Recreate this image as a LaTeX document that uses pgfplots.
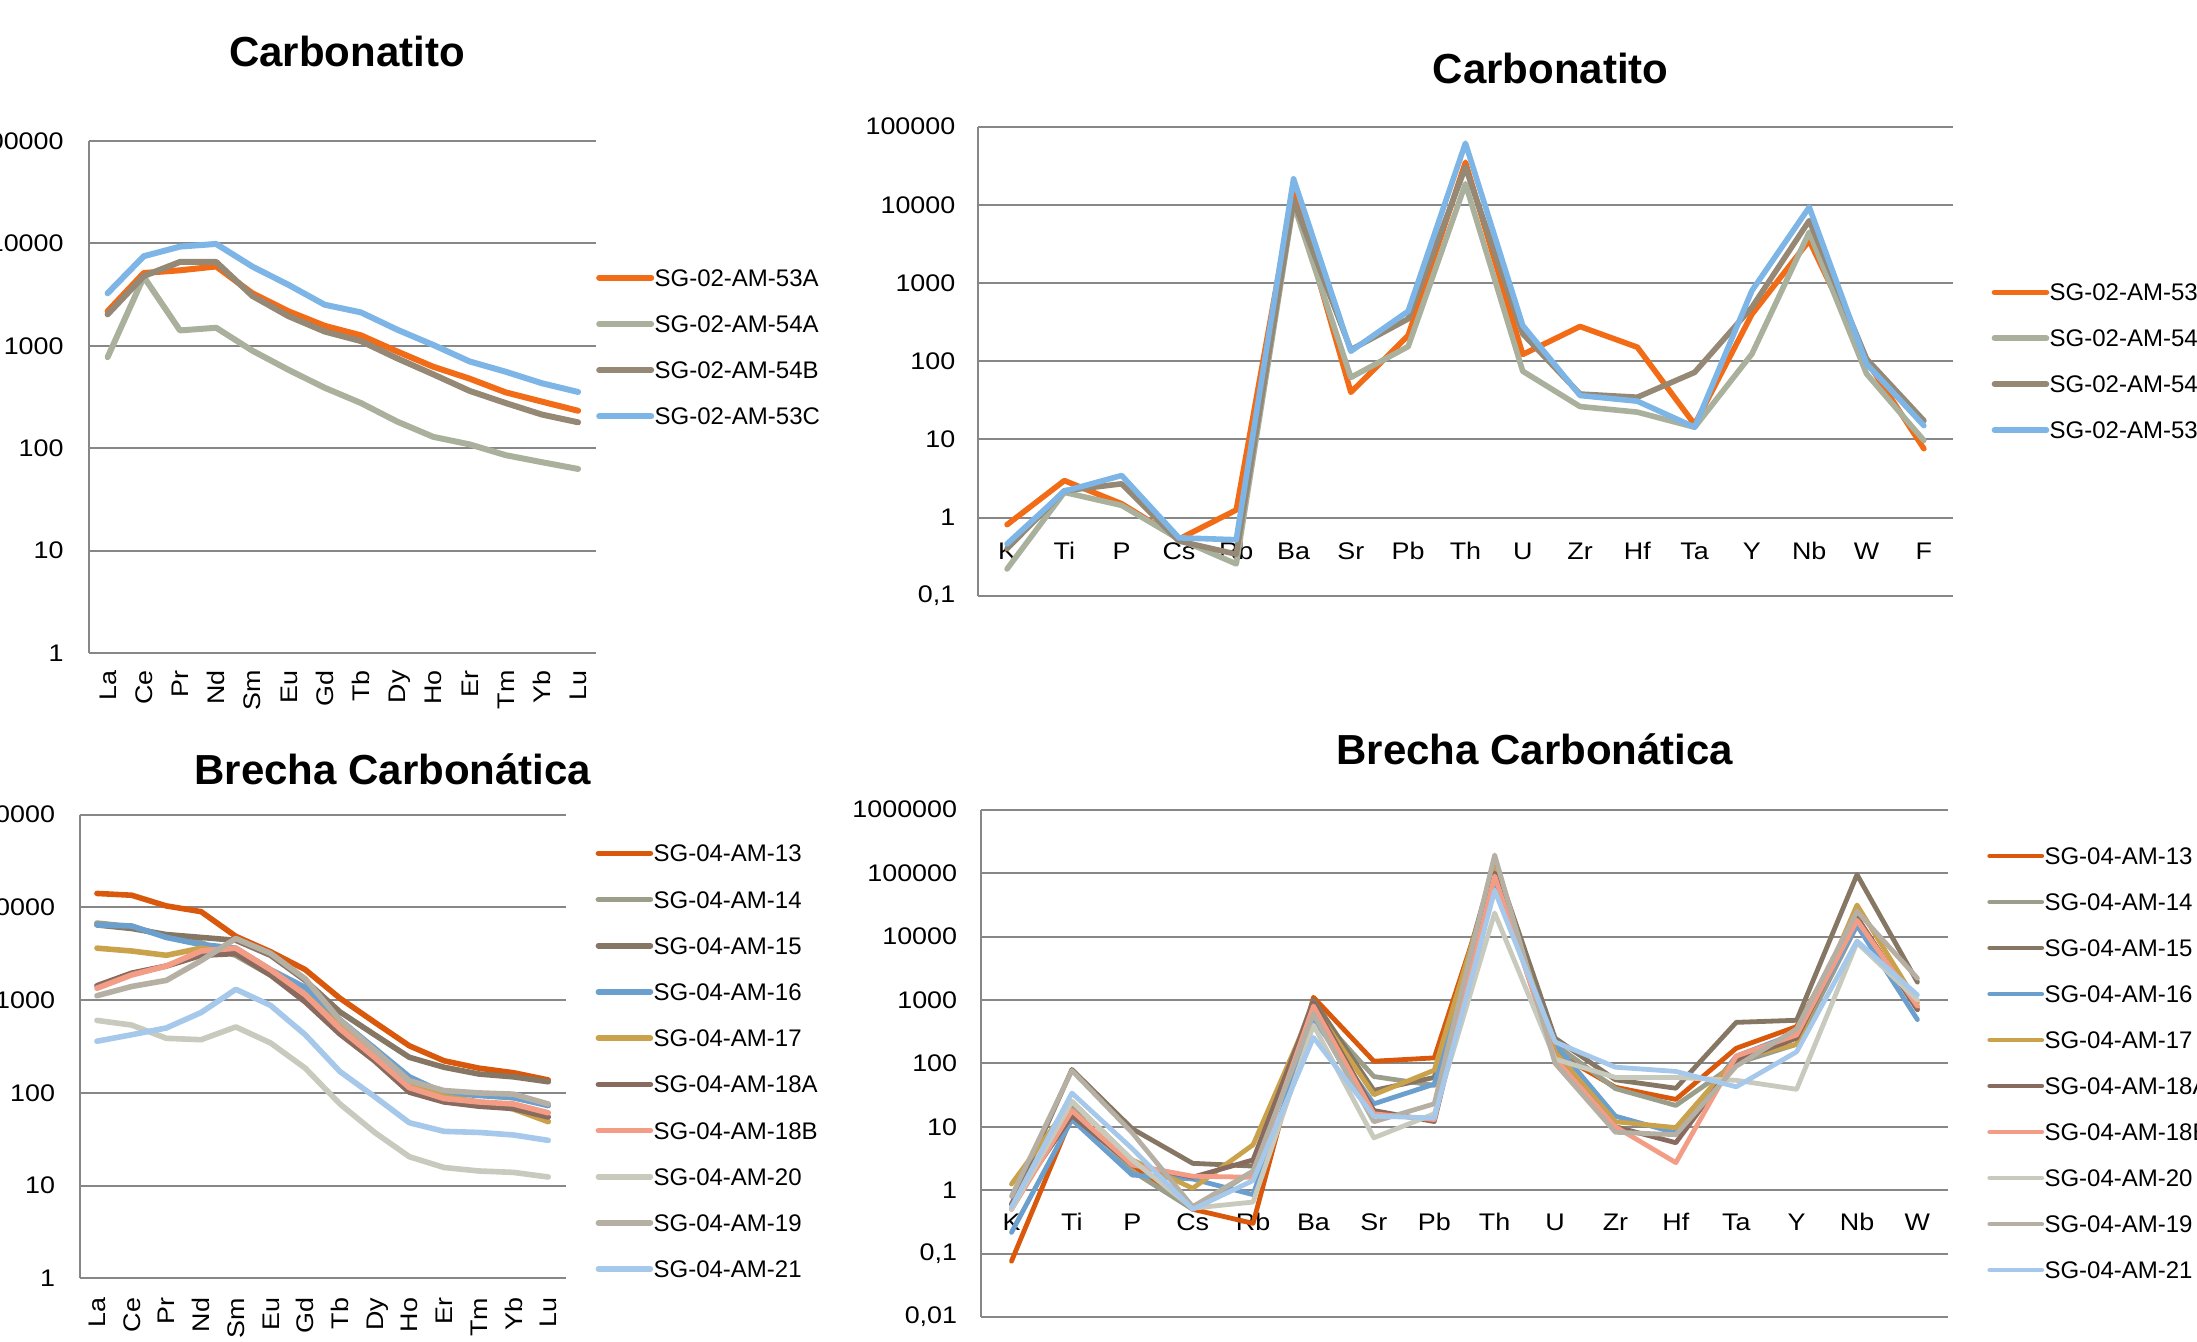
\documentclass[border=0pt]{standalone}
\usepackage{pgfplots}
\pgfplotsset{compat=1.18}
\usepackage{pgfplotstable}
\usepackage{fontspec}
\setmainfont{Liberation Sans}
\newfontfamily\tickfam[FakeStretch=1.12]{Liberation Sans}

\definecolor{gridc}{HTML}{878787}
\definecolor{cA}{HTML}{F26B16}
\definecolor{cB}{HTML}{A9B09C}
\definecolor{cC}{HTML}{958875}
\definecolor{cD}{HTML}{7DB6E6}
\definecolor{d13}{HTML}{D9580B}
\definecolor{d14}{HTML}{9B9E8B}
\definecolor{d15}{HTML}{857764}
\definecolor{d16}{HTML}{6BA0CE}
\definecolor{d17}{HTML}{CBA24C}
\definecolor{d18A}{HTML}{886A5E}
\definecolor{d18B}{HTML}{F49D86}
\definecolor{d20}{HTML}{C7CABC}
\definecolor{d19}{HTML}{B6AFA3}
\definecolor{d21}{HTML}{A6C8EA}

\pgfplotstableread{
x A53 A54 B54 C53
0  2173 774 2028 3258
1  5140 4710 4800 7500
2  5460 1413 6590 9300
3  5950 1500 6590 9880
4  3260 896 3068 5940
5  2170 582 1944 3935
6  1567 389 1377 2516
7  1265 276 1111 2120
8  881 182 754 1438
9  624 129 526 1019
10 478 109 363 704
11 351 85.5 276 558
12 285 73 213 431
13 232 62.7 179 354
}\tabA

\pgfplotstableread{
x A53 A54 B54 C53
0  0.81 0.22 0.40 0.46
1  2.97 2.1 2.2 2.17
2  1.5 1.43 2.7 3.45
3  0.53 0.53 0.50 0.55
4  1.25 0.255 0.34 0.52
5  15000 10300 11300 21500
6  40 62 140 134
7  213 154 348 436
8  35100 18600 30300 61500
9  122 74.5 224 286
10 278 26.3 38 36.4
11 151 22.3 34.6 30.8
12 15.5 14.3 72 14.3
13 400 124 490 800
14 3500 4470 6300 9330
15 102 69 107 92.4
16 7.6 9.7 17.4 15
}\tabB

\pgfplotstableread{
x s13 s14 s15 s16 s17 s18A s18B s20 s19 s21
0  14160 6780 6480 6480 3640 1432 1345 605 1117 361
1  13540 6200 5930 6310 3390 1955 1870 539 1406 424
2  10380 4880 5100 4750 3047 2335 2335 388 1635 502
3  9010 4155 4750 3980 3640 3047 3390 375 2667 736
4  4880 3047 4425 3640 3185 3185 3640 515 4625 1310
5  3330 1870 3047 2135 1955 1870 2135 346 3200 879
6  2135 1049 1635 1370 1147 960 1147 185 1700 424
7  1049 563 748 615 515 432 493 76 610 170
8  578 302 424 302 253 222 242 37.5 290 91
9  322 136 242 149 124 102 114 20.5 135 47.7
10 222 104 189 100 91 80 87 15.7 106 38.5
11 185 95 160 94 80 72 80 14.4 100 37.5
12 165 89 149 89 67 68 76 13.9 97 35.2
13 138 75 132 73 49 55 61 12.4 76 30.8
}\tabC

\pgfplotstableread{
x s13 s14 s15 s16 s17 s18A s18B s20 s19 s21
0  0.076 0.5 0.6 0.216 1.25 0.6 0.5 0.5 0.8 0.54
1  14.7 20 80 13 25 15 18 25 77 34
2  2.5 2 9.3 1.73 3 2.5 2.5 3 8 4.5
3  0.5 0.5 2.65 1.5 1.07 1.6 1.66 0.52 0.55 0.5
4  0.3 2 2.4 0.85 5.2 3 1.6 0.65 2 1.42
5  1100 700 1000 500 800 900 800 400 600 256
6  108 62 37.5 23 32 18 16 6.7 12 14.7
7  122 45 60 47 78 12.1 13 16 23 13.8
8  100000 100000 150000 80000 120000 100000 90000 23500 193000 52900
9  150 200 250 200 150 120 120 117 100 218
10 42 40 55 14.7 12 10 10 60 8.2 87
11 27 21.7 40.5 8 9.7 5.6 2.72 60 7.5 74.6
12 173 100 443 130 120 110 130 54 90 42.7
13 380 200 478 300 200 250 280 39 350 152
14 20000 15000 94700 15000 31400 20000 18000 8000 25000 8490
15 727 800 1910 490 900 700 800 1000 2200 1200
}\tabD

\newcommand{\tkfont}{\tickfam\fontsize{12}{14}\selectfont}
\newcommand{\lgfont}{\fontsize{12}{14}\selectfont}
\pgfplotsset{
  myPanel/.style={
    clip=false,
    axis line style={draw=none},
    tick style={draw=none}, major tick length=0pt,
    ymajorgrids, grid style={gridc, line width=1pt},
    yticklabel style={anchor=east, inner sep=0pt, font=\tkfont},
    xticklabel style={font=\tkfont, inner sep=0pt, text height=8.6pt, text depth=0pt},
    legend cell align=left,
    legend style={draw=none, fill=none, inner sep=0pt, outer sep=0pt,
      anchor=north west, column sep=0.2pt, font=\lgfont,
      nodes={inner sep=0pt, text height=8.6pt, text depth=0pt}},
    legend image code/.code={\draw[##1, line cap=round] (1.4pt,0pt) -- (27.4pt,0pt);},
    every axis plot post/.append style={no markers, line join=round, line cap=round},
    after end axis/.code={\draw[gridc, line width=1pt] (rel axis cs:0,0) -- (rel axis cs:0,1);},
  },
  myRee/.style={xmin=-0.5, xmax=13.5, xtick={0,...,13},
    xticklabels={La,Ce,Pr,Nd,Sm,Eu,Gd,Tb,Dy,Ho,Er,Tm,Yb,Lu},
    ymin=1, ymax=100000, ytick={1,10,100,1000,10000,100000},
    yticklabels={1,10,100,1000,10000,100000}},
}

\begin{document}
\begin{tikzpicture}
% ---------- Panel 1 ----------
\begin{axis}[ymode=log, scale only axis, myPanel, myRee,
  at={(44.75pt,344pt)}, anchor=south west, width=253.35pt, height=256pt,
  yticklabel style={xshift=-12.75pt},
  xticklabel style={yshift=-8.5pt, rotate=90, anchor=east},
  legend style={at={(1.0,0.7498)}, row sep=14.5pt}]
\addplot[cA, line width=3pt] table[x=x,y=A53]{\tabA}; \addlegendentry{SG-02-AM-53A}
\addplot[cB, line width=3pt] table[x=x,y=A54]{\tabA}; \addlegendentry{SG-02-AM-54A}
\addplot[cC, line width=3pt] table[x=x,y=B54]{\tabA}; \addlegendentry{SG-02-AM-54B}
\addplot[cD, line width=3pt] table[x=x,y=C53]{\tabA}; \addlegendentry{SG-02-AM-53C}
\end{axis}
% ---------- Panel 2 ----------
\begin{axis}[ymode=log, scale only axis, myPanel,
  at={(489.2pt,372.65pt)}, anchor=south west, width=487.05pt, height=234.5pt,
  xmin=-0.5, xmax=16.5, xtick={0,...,16},
  xticklabels={K,Ti,P,Cs,Rb,Ba,Sr,Pb,Th,U,Zr,Hf,Ta,Y,Nb,W,F},
  ymin=0.1, ymax=100000, ytick={0.1,1,10,100,1000,10000,100000},
  yticklabels={{0,1},1,10,100,1000,10000,100000},
  yticklabel style={xshift=-11.35pt},
  xticklabel style={anchor=north, yshift=27pt},
  legend style={at={(1.0402,0.6652)}, row sep=14.35pt}]
\addplot[cA, line width=2.8pt] table[x=x,y=A53]{\tabB}; \addlegendentry{SG-02-AM-53A}
\addplot[cB, line width=2.8pt] table[x=x,y=A54]{\tabB}; \addlegendentry{SG-02-AM-54A}
\addplot[cC, line width=2.8pt] table[x=x,y=B54]{\tabB}; \addlegendentry{SG-02-AM-54B}
\addplot[cD, line width=2.8pt] table[x=x,y=C53]{\tabB}; \addlegendentry{SG-02-AM-53C}
\end{axis}
% ---------- Panel 3 ----------
\begin{axis}[ymode=log, scale only axis, myPanel, myRee,
  at={(39.8pt,31.3pt)}, anchor=south west, width=243pt, height=231.85pt,
  yticklabel style={xshift=-12.1pt},
  xticklabel style={yshift=-9.5pt, rotate=90, anchor=east},
  legend style={at={(1.0618,0.9353)}, row sep=14.5pt}]
\addplot[d13, line width=2.8pt] table[x=x,y=s13]{\tabC}; \addlegendentry{SG-04-AM-13}
\addplot[d14, line width=2.8pt] table[x=x,y=s14]{\tabC}; \addlegendentry{SG-04-AM-14}
\addplot[d15, line width=2.8pt] table[x=x,y=s15]{\tabC}; \addlegendentry{SG-04-AM-15}
\addplot[d16, line width=2.8pt] table[x=x,y=s16]{\tabC}; \addlegendentry{SG-04-AM-16}
\addplot[d17, line width=2.8pt] table[x=x,y=s17]{\tabC}; \addlegendentry{SG-04-AM-17}
\addplot[d18A, line width=2.8pt] table[x=x,y=s18A]{\tabC}; \addlegendentry{SG-04-AM-18A}
\addplot[d18B, line width=2.8pt] table[x=x,y=s18B]{\tabC}; \addlegendentry{SG-04-AM-18B}
\addplot[d20, line width=2.8pt] table[x=x,y=s20]{\tabC}; \addlegendentry{SG-04-AM-20}
\addplot[d19, line width=2.8pt] table[x=x,y=s19]{\tabC}; \addlegendentry{SG-04-AM-19}
\addplot[d21, line width=2.8pt] table[x=x,y=s21]{\tabC}; \addlegendentry{SG-04-AM-21}
\end{axis}
% ---------- Panel 4 ----------
\begin{axis}[ymode=log, scale only axis, myPanel,
  at={(490.65pt,12pt)}, anchor=south west, width=483.15pt, height=253.65pt,
  xmin=-0.5, xmax=15.5, xtick={0,...,15},
  xticklabels={K,Ti,P,Cs,Rb,Ba,Sr,Pb,Th,U,Zr,Hf,Ta,Y,Nb,W},
  ymin=0.01, ymax=1000000, ytick={0.01,0.1,1,10,100,1000,10000,100000,1000000},
  yticklabels={{0,01},{0,1},1,10,100,1000,10000,100000,1000000},
  yticklabel style={xshift=-11.9pt},
  xticklabel style={anchor=north, yshift=52pt},
  legend style={at={(1.0411,0.9257)}, row sep=14.4pt}]
\addplot[d13, line width=2.4pt] table[x=x,y=s13]{\tabD}; \addlegendentry{SG-04-AM-13}
\addplot[d14, line width=2.4pt] table[x=x,y=s14]{\tabD}; \addlegendentry{SG-04-AM-14}
\addplot[d15, line width=2.4pt] table[x=x,y=s15]{\tabD}; \addlegendentry{SG-04-AM-15}
\addplot[d16, line width=2.4pt] table[x=x,y=s16]{\tabD}; \addlegendentry{SG-04-AM-16}
\addplot[d17, line width=2.4pt] table[x=x,y=s17]{\tabD}; \addlegendentry{SG-04-AM-17}
\addplot[d18A, line width=2.4pt] table[x=x,y=s18A]{\tabD}; \addlegendentry{SG-04-AM-18A}
\addplot[d18B, line width=2.4pt] table[x=x,y=s18B]{\tabD}; \addlegendentry{SG-04-AM-18B}
\addplot[d20, line width=2.4pt] table[x=x,y=s20]{\tabD}; \addlegendentry{SG-04-AM-20}
\addplot[d19, line width=2.4pt] table[x=x,y=s19]{\tabD}; \addlegendentry{SG-04-AM-19}
\addplot[d21, line width=2.4pt] table[x=x,y=s21]{\tabD}; \addlegendentry{SG-04-AM-21}
\end{axis}
% ---------- Titles ----------
\begin{scope}[every node/.style={font=\fontsize{21}{24}\bfseries\selectfont, anchor=base, inner sep=0pt}]
\node at (173.5pt,637.15pt) {Carbonatito};
\node at (775.25pt,628.5pt) {Carbonatito};
\node at (196.5pt,278pt) {Brecha Carbonática};
\node at (767.5pt,288pt) {Brecha Carbonática};
\end{scope}
\pgfresetboundingbox
\useasboundingbox (0pt,0pt) rectangle (1098.5pt,670.5pt);
\end{tikzpicture}
\end{document}
